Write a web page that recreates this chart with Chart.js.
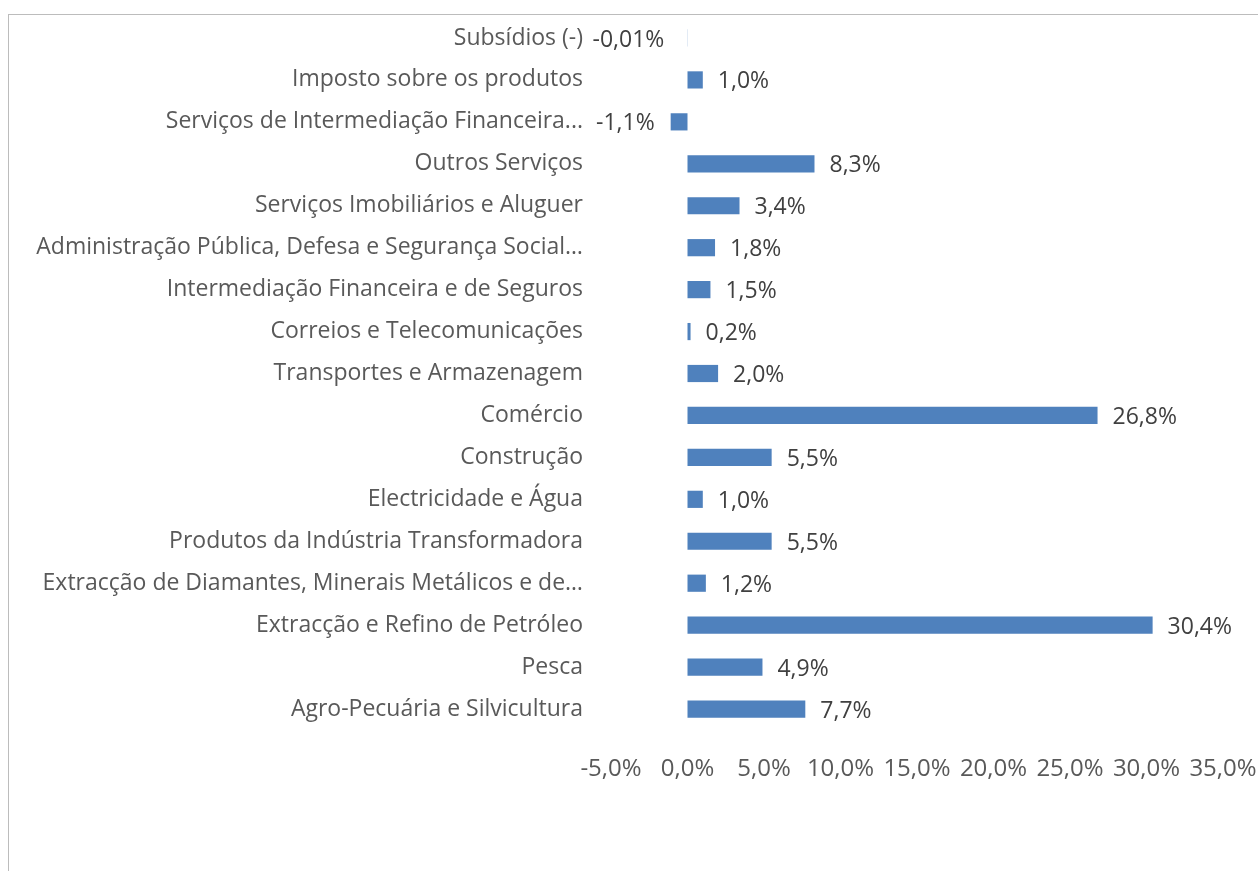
<!DOCTYPE html>
<html>
<head>
<meta charset="utf-8">
<script src="https://cdn.jsdelivr.net/npm/chart.js@4/dist/chart.umd.min.js"></script>
<style>
  html, body { margin: 0; padding: 0; background: #fff; }
  #wrap { position: relative; width: 1258px; height: 871px; overflow: hidden; }
  #frame { position: absolute; left: 8px; top: 14px; width: 1400px; height: 1000px; border: 1px solid #bcbcbc; }
  canvas { position: absolute; left: 0; top: 0; }
</style>
</head>
<body>
<div id="wrap">
  <div id="frame"></div>
  <canvas id="chart" width="1258" height="871"></canvas>
</div>
<script>
// sectors, top to bottom as shown
const sectors = [
  'Subsídios (-)',
  'Imposto sobre os produtos',
  'Serviços de Intermediação Financeira...',
  'Outros Serviços',
  'Serviços Imobiliários e Aluguer',
  'Administração Pública, Defesa e Segurança Social…',
  'Intermediação Financeira e de Seguros',
  'Correios e Telecomunicações',
  'Transportes e Armazenagem',
  'Comércio',
  'Construção',
  'Electricidade e Água',
  'Produtos da Indústria Transformadora',
  'Extracção de Diamantes, Minerais Metálicos e de…',
  'Extracção e Refino de Petróleo',
  'Pesca',
  'Agro-Pecuária e Silvicultura'
];

// share of GDP, percent
const shares = [-0.01, 1.0, -1.1, 8.3, 3.4, 1.8, 1.5, 0.2, 2.0, 26.8, 5.5, 1.0, 5.5, 1.2, 30.4, 4.9, 7.7];

// x axis ticks, percent
const xTicks = [-5, 0, 5, 10, 15, 20, 25, 30, 35];

const FONT = '"Open Sans"';
const TEXT = '#595959';

function pct(v, digits) {
  return v.toFixed(digits).replace('.', ',') + '%';
}

// draws the value next to each bar end
const valueLabels = {
  id: 'valueLabels',
  afterDatasetsDraw(chart) {
    const ctx = chart.ctx;
    const meta = chart.getDatasetMeta(0);
    ctx.save();
    ctx.font = '23px ' + FONT;
    ctx.fillStyle = '#404040';
    ctx.textBaseline = 'middle';
    meta.data.forEach((bar, i) => {
      const v = shares[i];
      const txt = pct(v, Math.abs(v) < 0.1 ? 2 : 1);
      if (v >= 0) {
        ctx.textAlign = 'left';
        ctx.fillText(txt, bar.x + 15, bar.y + 2);
      } else {
        ctx.textAlign = 'right';
        ctx.fillText(txt, Math.min(bar.x, bar.base) - (Math.abs(v) < 0.1 ? 23 : 16), bar.y + 2);
      }
    });
    ctx.restore();
  }
};

new Chart(document.getElementById('chart'), {
  type: 'bar',
  data: {
    labels: sectors,
    datasets: [{
      data: shares,
      backgroundColor: '#4f81bd',
      borderWidth: 0,
      categoryPercentage: 1,
      barPercentage: 0.41
    }]
  },
  plugins: [valueLabels],
  options: {
    indexAxis: 'y',
    responsive: false,
    animation: false,
    layout: { padding: { left: 0, right: 35, top: 17, bottom: 81 } },
    plugins: {
      legend: { display: false },
      tooltip: { enabled: false }
    },
    scales: {
      x: {
        min: xTicks[0],
        max: xTicks[xTicks.length - 1],
        afterBuildTicks: (scale) => { scale.ticks = xTicks.map(v => ({ value: v })); },
        afterFit: (scale) => {
          scale.height = 60;
          scale.paddingLeft = 0;
          scale.paddingRight = 0;
        },
        grid: { display: false, drawTicks: false },
        border: { display: false },
        ticks: {
          padding: 25,
          color: TEXT,
          font: { family: FONT, size: 24 },
          maxRotation: 0,
          callback: (v) => pct(v, 1)
        }
      },
      y: {
        afterFit: (scale) => {
          scale.width = 611;
          scale.paddingTop = 0;
          scale.paddingBottom = 0;
        },
        grid: { display: false, drawTicks: false },
        border: { display: false },
        ticks: {
          padding: 28,
          autoSkip: false,
          color: TEXT,
          font: { family: FONT, size: 23 }
        }
      }
    }
  }
});
</script>
</body>
</html>
